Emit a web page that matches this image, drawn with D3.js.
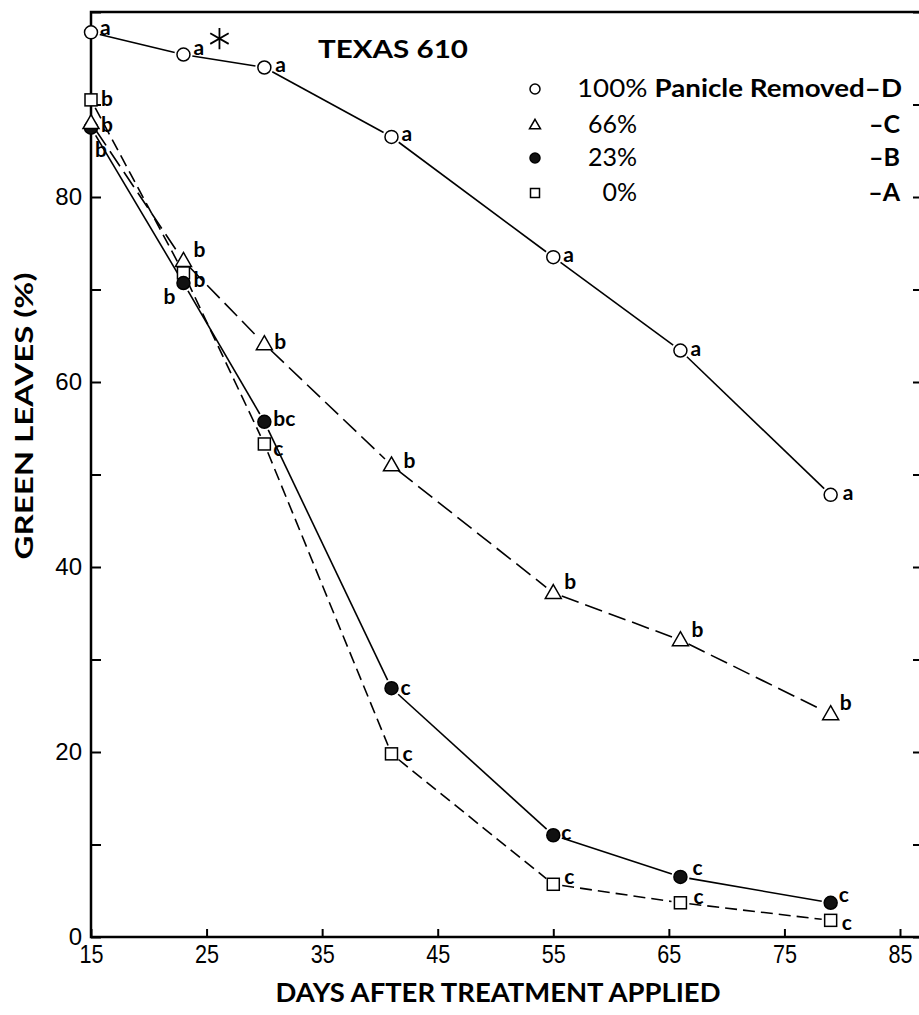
<!DOCTYPE html>
<html>
<head>
<meta charset="utf-8">
<script src="https://cdn.jsdelivr.net/npm/d3@7"></script>
<style>
body { margin: 0; background: #fff; }
svg { display: block; font-family: Lato, "Open Sans", sans-serif; }
</style>
</head>
<body>
<svg id="chart" width="919" height="1015"></svg>
<script>
// values
var days = [15, 23, 30, 41, 55, 66, 79];
var treatments = ["100%", "66%", "23%", "0%"];
var groupLetters = ["D", "C", "B", "A"];
var removed100 = [97.8, 95.4, 94.0, 86.5, 73.5, 63.4, 47.8];
var removed66 = [88.0, 73.1, 64.1, 51.0, 37.2, 32.1, 24.1];
var removed23 = [87.5, 70.7, 55.7, 26.9, 11.0, 6.5, 3.7];
var removed0 = [90.5, 71.8, 53.3, 19.8, 5.7, 3.7, 1.8];
var sig100 = ["a", "a", "a", "a", "a", "a", "a"];
var sig66 = ["b", "b", "b", "b", "b", "b", "b"];
var sig23 = ["b", "b", "bc", "c", "c", "c", "c"];
var sig0 = ["b", "b", "c", "c", "c", "c", "c"];
var xTicks = [15, 25, 35, 45, 55, 65, 75, 85];
var yTicks = [0, 10, 20, 30, 40, 50, 60, 70, 80, 90, 100];

// where each letter sits next to its marker (left edge, vertical middle)
var labelOffsets = [
    [[9, -5], [10, -7], [11, -3], [10, -3], [10, -2], [10, -2], [12, -2]],
    [[10, 2], [10, -11], [10, -2], [12, -5], [11, -11], [11, -10], [9, -11]],
    [[4, 22], [-20, 14], [9, -3], [9, -1], [8, -3], [12, -9], [8, -8]],
    [[10, -1], [10, 7], [9, 5], [11, 0], [11, -8], [13, -6], [11, 2]]
];

var series = [
    {values: removed100, sig: sig100, marker: "circle", dash: null},
    {values: removed66, sig: sig66, marker: "triangle", dash: "18,7"},
    {values: removed23, sig: sig23, marker: "dot", dash: null},
    {values: removed0, sig: sig0, marker: "square", dash: "12,6"}
];

var svg = d3.select("#chart");
var x = d3.scaleLinear().domain([15, 85]).range([91, 900]);
var y = d3.scaleLinear().domain([0, 100]).range([937, 12]);

// axes
var xAxis = svg.append("g")
    .attr("transform", `translate(0,${y(0)})`)
    .call(d3.axisBottom(x).tickValues(xTicks).tickSizeInner(-8).tickSizeOuter(0).tickPadding(8));
xAxis.select(".domain").remove();
xAxis.selectAll("line").attr("stroke-width", 2);
xAxis.selectAll("text")
    .attr("font-family", null).attr("font-size", 26).attr("fill", "#000")
    .attr("textLength", 24).attr("lengthAdjust", "spacingAndGlyphs");

var yAxis = svg.append("g")
    .attr("transform", `translate(${x(15)},0)`)
    .call(d3.axisLeft(y).tickValues(yTicks).tickSizeInner(-10).tickSizeOuter(0).tickPadding(9)
        .tickFormat(d => (d % 20 === 0 && d < 100) ? d : ""));
yAxis.select(".domain").remove();
yAxis.selectAll("line").attr("stroke-width", 2);
yAxis.selectAll("text").attr("font-family", null).attr("font-size", 24).attr("fill", "#000");

var rightAxis = svg.append("g")
    .attr("transform", "translate(921,0)")
    .call(d3.axisLeft(y).tickValues(yTicks).tickSize(8).tickFormat(""));
rightAxis.selectAll("line").attr("stroke-width", 2);

// frame
svg.append("path")
    .attr("d", `M919,${y(100)}H${x(15)}V${y(0)}H919`)
    .attr("fill", "none").attr("stroke", "#000").attr("stroke-width", 2.5);

// lines, broken short of each marker
var gap = 9;
series.forEach(function(s) {
    var pts = days.map((d, i) => [x(d), y(s.values[i])]);
    svg.append("g").selectAll("line")
        .data(d3.pairs(pts))
        .join("line")
        .each(function(p) {
            var dx = p[1][0] - p[0][0], dy = p[1][1] - p[0][1];
            var len = Math.sqrt(dx * dx + dy * dy);
            var ux = dx / len, uy = dy / len;
            d3.select(this)
                .attr("x1", p[0][0] + ux * gap).attr("y1", p[0][1] + uy * gap)
                .attr("x2", p[1][0] - ux * gap).attr("y2", p[1][1] - uy * gap);
        })
        .attr("stroke", "#000").attr("stroke-width", 1.6)
        .attr("stroke-dasharray", s.dash);
});

function drawMarker(g, type, cx, cy, size) {
    if (type === "circle" || type === "dot") {
        g.append("circle").attr("cx", cx).attr("cy", cy).attr("r", size / 2)
            .attr("fill", type === "dot" ? "#111" : "#fff")
            .attr("stroke", "#000").attr("stroke-width", 1.5);
    } else if (type === "square") {
        g.append("rect").attr("x", cx - size / 2).attr("y", cy - size / 2)
            .attr("width", size).attr("height", size)
            .attr("fill", "#fff").attr("stroke", "#000").attr("stroke-width", 1.5);
    } else {
        var h = size * 0.87;
        g.append("path")
            .attr("d", `M${cx},${cy - h * 0.6}L${cx + size / 2},${cy + h * 0.4}L${cx - size / 2},${cy + h * 0.4}Z`)
            .attr("fill", "#fff").attr("stroke", "#000").attr("stroke-width", 1.5);
    }
}

var markerSize = {circle: 13, dot: 13, square: 12, triangle: 16};

// markers and significance letters (draw bottom series first)
[3, 2, 1, 0].forEach(function(si) {
    var s = series[si];
    var g = svg.append("g");
    days.forEach(function(d, i) {
        drawMarker(g, s.marker, x(d), y(s.values[i]), markerSize[s.marker]);
    });
    svg.append("g").selectAll("text")
        .data(days)
        .join("text")
        .attr("x", (d, i) => x(d) + labelOffsets[si][i][0])
        .attr("y", (d, i) => y(s.values[i]) + labelOffsets[si][i][1])
        .attr("dy", "0.35em")
        .attr("font-size", 21).attr("font-weight", 700)
        .text((d, i) => s.sig[i]);
});

// asterisk after the day-23 letter
svg.append("path")
    .attr("d", d3.symbol().type(d3.symbolAsterisk).size(320)())
    .attr("transform", `translate(${x(days[1]) + 36},${y(removed100[1]) - 16})`)
    .attr("fill", "none").attr("stroke", "#000").attr("stroke-width", 1.8);

// title
svg.append("text").attr("x", 318).attr("y", 58)
    .attr("font-size", 25).attr("font-weight", 700)
    .attr("textLength", 150).attr("lengthAdjust", "spacingAndGlyphs")
    .text("TEXAS 610");

// legend
var legendY = [97, 133, 166, 201];
var legendMarkers = ["circle", "triangle", "dot", "square"];
var legendSize = {circle: 10, dot: 10, square: 9, triangle: 11};
var lg = svg.append("g");
treatments.forEach(function(t, i) {
    drawMarker(lg, legendMarkers[i], 535, legendY[i] - 8, legendSize[legendMarkers[i]]);
    if (i === 0) {
        var t0 = lg.append("text").attr("x", 577).attr("y", legendY[i]).attr("font-size", 25)
            .attr("textLength", 325).attr("lengthAdjust", "spacingAndGlyphs");
        t0.append("tspan").text(t + " ");
        t0.append("tspan").attr("font-weight", 700).text("Panicle Removed\u2013" + groupLetters[i]);
    } else {
        lg.append("text").attr("x", 637).attr("y", legendY[i]).attr("text-anchor", "end")
            .attr("font-size", 25).text(t);
        lg.append("text").attr("x", 900).attr("y", legendY[i]).attr("text-anchor", "end")
            .attr("font-size", 25).attr("font-weight", 700)
            .text("\u2013" + groupLetters[i]);
    }
});

// axis titles
svg.append("text").attr("x", 498).attr("y", 1002).attr("text-anchor", "middle")
    .attr("font-size", 26).attr("font-weight", 700)
    .attr("textLength", 445).attr("lengthAdjust", "spacingAndGlyphs")
    .text("DAYS AFTER TREATMENT APPLIED");

svg.append("text")
    .attr("transform", "translate(33,416) rotate(-90)")
    .attr("text-anchor", "middle")
    .attr("font-size", 24).attr("font-weight", 700)
    .attr("textLength", 287).attr("lengthAdjust", "spacingAndGlyphs")
    .text("GREEN LEAVES (%)");
</script>
</body>
</html>
